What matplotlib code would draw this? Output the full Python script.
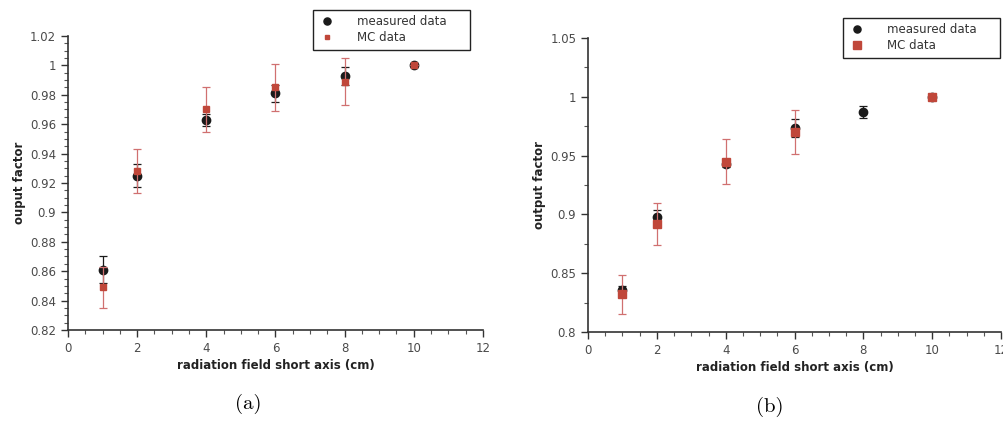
import matplotlib
matplotlib.use("Agg")
import matplotlib.pyplot as plt
from matplotlib.ticker import MultipleLocator

# field short axis (cm)
field_a = [1, 2, 4, 6, 8, 10]
field_b = [1, 2, 4, 6, 8, 10]
field_b_mc = [1, 2, 4, 6, 10]

# panel (a)
meas_a = [0.861, 0.925, 0.963, 0.981, 0.993, 1.0]
meas_a_err = [0.009, 0.008, 0.004, 0.006, 0.006, 0.0]
mc_a = [0.849, 0.928, 0.970, 0.985, 0.989, 1.0]
mc_a_err = [0.014, 0.015, 0.015, 0.016, 0.016, 0.0]

# panel (b)
meas_b = [0.836, 0.898, 0.943, 0.9735, 0.987, 1.0]
meas_b_err = [0.003, 0.006, 0.003, 0.008, 0.005, 0.0]
mc_b = [0.832, 0.892, 0.945, 0.970, 1.0]
mc_b_err = [0.0165, 0.018, 0.019, 0.019, 0.0]

tick_color = "#4a4a4a"
mc_color = "#c0473a"
mc_err_color = "#d07070"

fig = plt.figure(figsize=(10.04, 4.23), dpi=100)
ax_a = fig.add_axes([0.0677, 0.2199, 0.4133, 0.695])
ax_b = fig.add_axes([0.5857, 0.2151, 0.4114, 0.695])


def style_axes(ax, ylim, ymajor, yminor, ylabel):
    ax.set_xlim(0, 12)
    ax.set_ylim(*ylim)
    ax.xaxis.set_major_locator(MultipleLocator(2))
    ax.xaxis.set_minor_locator(MultipleLocator(0.5))
    ax.yaxis.set_major_locator(MultipleLocator(ymajor))
    ax.yaxis.set_minor_locator(MultipleLocator(yminor))
    ax.spines["top"].set_visible(False)
    ax.spines["right"].set_visible(False)
    for s in ("left", "bottom"):
        ax.spines[s].set_color("#333333")
        ax.spines[s].set_linewidth(1.2)
    ax.tick_params(which="major", length=5, width=1, color="#333333",
                   labelsize=8.5, labelcolor=tick_color)
    ax.tick_params(which="minor", length=3, width=0.8, color="#555555")
    ax.yaxis.set_major_formatter(plt.FuncFormatter(lambda v, p: ("%g" % round(v, 3))))
    ax.set_xlabel("radiation field short axis (cm)", fontsize=8.5,
                  fontweight="bold", color="#222222", labelpad=3)
    ax.set_ylabel(ylabel, fontsize=8.5, fontweight="bold",
                  color="#222222", labelpad=3)


def add_legend(ax, handles, x0, y_top, width):
    leg = ax.legend(handles, ["measured data", "MC data"],
                    loc="upper left", bbox_to_anchor=(x0, y_top - 0.1, width, 0.1),
                    mode="expand", fancybox=False, framealpha=1,
                    edgecolor="#222222", fontsize=8.5, handletextpad=1.8,
                    borderpad=0.45, labelspacing=0.25, handlelength=1.5,
                    borderaxespad=0, markerscale=0.85)
    leg.get_frame().set_linewidth(1.0)
    for t in leg.get_texts():
        t.set_color("#333333")


# (a)
m1 = ax_a.errorbar(field_a, meas_a, yerr=meas_a_err, fmt="o", color="#1a1a1a",
                   ms=6, elinewidth=0.9, capsize=3, capthick=0.9, zorder=3)
m2 = ax_a.errorbar(field_a, mc_a, yerr=mc_a_err, fmt="s", color=mc_color,
                   ecolor=mc_err_color, ms=4, elinewidth=0.9, capsize=3,
                   capthick=0.9, zorder=4)
style_axes(ax_a, (0.82, 1.02), 0.02, 0.005, "ouput factor")
add_legend(ax_a, [m1[0], m2[0]], 0.59, 1.088, 0.379)

# (b)
n1 = ax_b.errorbar(field_b, meas_b, yerr=meas_b_err, fmt="o", color="#1a1a1a",
                   ms=6, elinewidth=0.9, capsize=3, capthick=0.9, zorder=3)
n2 = ax_b.errorbar(field_b_mc, mc_b, yerr=mc_b_err, fmt="s", color=mc_color,
                   ecolor=mc_err_color, ms=6, elinewidth=0.9, capsize=3,
                   capthick=0.9, zorder=4)
style_axes(ax_b, (0.8, 1.05), 0.05, 0.025, "output factor")
add_legend(ax_b, [n1[0], n2[0]], 0.617, 1.068, 0.38)

# sub-figure captions
fig.text(0.247, 0.045, "(a)", fontsize=15, family="cmr10", ha="center", va="center")
fig.text(0.767, 0.038, "(b)", fontsize=15, family="cmr10", ha="center", va="center")

fig.savefig("out.png", dpi=100)
